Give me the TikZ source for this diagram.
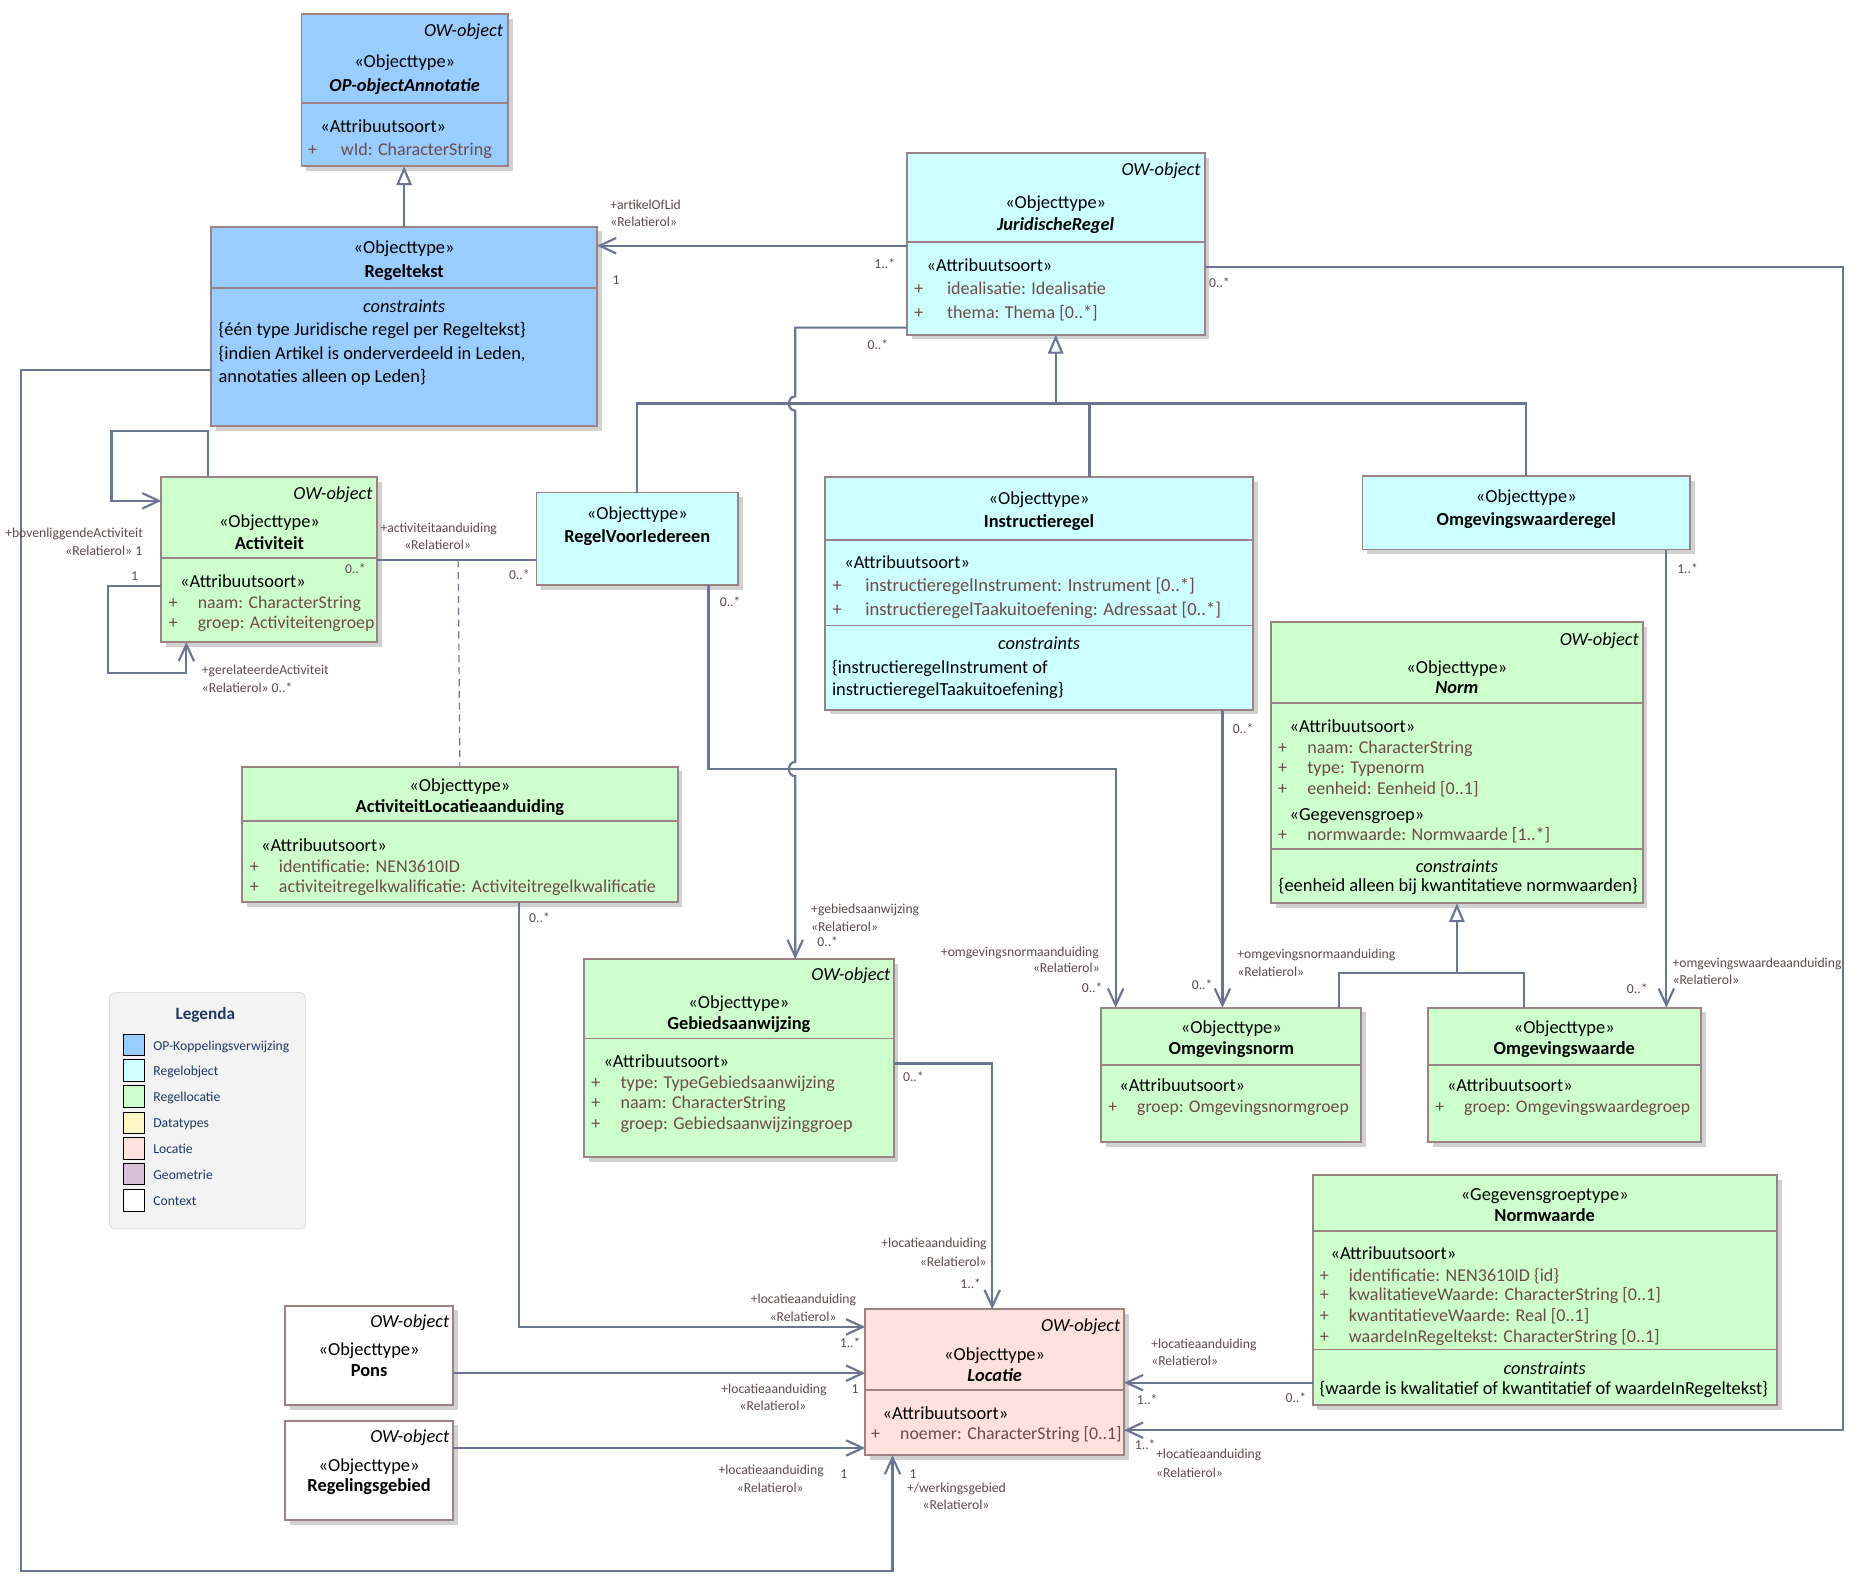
\documentclass[tikz,border=0pt]{standalone}
\usepackage{fontspec}
\setmainfont{Carlito}
\usetikzlibrary{arrows.meta,shadows}

\definecolor{opblauw}{HTML}{99CCFF}
\definecolor{regelobj}{HTML}{CCFFFF}
\definecolor{regelloc}{HTML}{CCFFCC}
\definecolor{datatype}{HTML}{FBF8C6}
\definecolor{locatie}{HTML}{FFE1DE}
\definecolor{geometrie}{HTML}{D8C0D8}
\definecolor{rand}{HTML}{9C8383}
\definecolor{lijn}{HTML}{6B7490}
\definecolor{attrkleur}{HTML}{6E4A48}
\definecolor{rolkleur}{HTML}{5A4B4B}
\definecolor{legtekst}{HTML}{1F3864}
\definecolor{legvlak}{HTML}{F3F3F3}

\newcommand{\attrplus}[1][17pt]{\llap{+\hspace{#1}}}

\begin{document}
\begin{tikzpicture}[x=1pt, y=-1pt,
  klasse/.style={draw=rand, line width=1.6pt, inner sep=0pt, outer sep=0pt, anchor=north west,
    drop shadow={shadow xshift=4pt, shadow yshift=-4pt, fill=black!18, opacity=1}},
  deler/.style={draw=rand, line width=1.6pt},
  tekst/.style={inner sep=0pt, anchor=mid, yshift=-3pt, font=\fontsize{15.5}{18}\selectfont},
  links/.style={tekst, anchor=mid west},
  attr/.style={links, text=attrkleur, font=\fontsize{15.2}{18}\selectfont},
  owtag/.style={inner sep=0pt, anchor=mid east, yshift=-3pt, font=\fontsize{15.5}{18}\selectfont\itshape},
  naam/.style={tekst, font=\fontsize{15.5}{18}\selectfont\bfseries},
  naamabs/.style={tekst, font=\fontsize{15.5}{18}\selectfont\bfseries\itshape},
  cstr/.style={tekst, font=\fontsize{15.5}{18}\selectfont\itshape},
  rol/.style={inner sep=0pt, anchor=mid west, yshift=-1.5pt, text=rolkleur, font=\fontsize{11.5}{13}\selectfont},
  verb/.style={draw=lijn, line width=1.8pt},
  assoc/.style={verb, -{Straight Barb[length=14pt,width=13pt]}},
  gen/.style={verb, -{Triangle[length=16pt,width=13pt,fill=white]}},
  staal/.style={draw=black, line width=0.8pt, minimum size=18, inner sep=0pt},
  legitem/.style={inner sep=0pt, anchor=mid west, yshift=-2pt, text=legtekst, font=\fontsize{11.5}{13}\selectfont}]

  %% ════ klassen ════
  \node[klasse, fill=opblauw, minimum width=174, minimum height=128] (opa) at (254,12) {};
  \node[klasse, fill=opblauw, minimum width=325, minimum height=168] (regt) at (178,191) {};
  \node[klasse, fill=regelobj, minimum width=251, minimum height=153] (jur) at (764,129) {};
  \node[klasse, fill=regelloc, minimum width=182, minimum height=139] (act) at (136,402) {};
  \node[klasse, fill=regelobj, minimum width=170, minimum height=78] (rvi) at (452,415) {};
  \node[klasse, fill=regelobj, minimum width=361, minimum height=196] (instr) at (695,402) {};
  \node[klasse, fill=regelobj, minimum width=276, minimum height=62] (owr) at (1148,401) {};
  \node[klasse, fill=regelloc, minimum width=313, minimum height=237] (norm) at (1071,524) {};
  \node[klasse, fill=regelloc, minimum width=367, minimum height=114] (ala) at (204,646) {};
  \node[klasse, fill=regelloc, minimum width=261, minimum height=167] (gba) at (492,808) {};
  \node[klasse, fill=regelloc, minimum width=219, minimum height=113] (ons) at (928,849) {};
  \node[klasse, fill=regelloc, minimum width=230, minimum height=113] (ows) at (1203,849) {};
  \node[klasse, fill=regelloc, minimum width=391, minimum height=194] (nw) at (1106,990) {};
  \node[klasse, fill=locatie, minimum width=218, minimum height=123] (loc) at (729,1103) {};
  \node[klasse, fill=white, minimum width=142, minimum height=84] (pons) at (240,1100) {};
  \node[klasse, fill=white, minimum width=142, minimum height=84] (rgb) at (240,1197) {};

  %% ════ compartimentlijnen ════
  \draw[deler] (opa.west |- 0,87) -- (opa.east |- 0,87);
  \draw[deler] (regt.west |- 0,243) -- (regt.east |- 0,243);
  \draw[deler] (jur.west |- 0,204) -- (jur.east |- 0,204);
  \draw[deler] (act.west |- 0,470) -- (act.east |- 0,470);
  \draw[deler] (instr.west |- 0,455) -- (instr.east |- 0,455);
  \draw[deler] (instr.west |- 0,527) -- (instr.east |- 0,527);
  \draw[deler] (norm.west |- 0,592) -- (norm.east |- 0,592);
  \draw[deler] (norm.west |- 0,715) -- (norm.east |- 0,715);
  \draw[deler] (ala.west |- 0,692) -- (ala.east |- 0,692);
  \draw[deler] (gba.west |- 0,875) -- (gba.east |- 0,875);
  \draw[deler] (ons.west |- 0,897) -- (ons.east |- 0,897);
  \draw[deler] (ows.west |- 0,897) -- (ows.east |- 0,897);
  \draw[deler] (nw.west |- 0,1037) -- (nw.east |- 0,1037);
  \draw[deler] (nw.west |- 0,1137) -- (nw.east |- 0,1137);
  \draw[deler] (loc.west |- 0,1171) -- (loc.east |- 0,1171);

  %% ════ generalisaties ════
  \coordinate (gen-jur) at (889.5,340);
  \coordinate (gen-norm) at (1227.5,820);
  \draw[gen] (regt.north) -- (regt.north |- opa.south);
  \draw[gen] (gen-jur) -- (jur.south);
  \draw[verb] (rvi.north) |- (gen-jur);
  \draw[verb] (owr.north) |- (gen-jur);
  \draw[verb] (instr.north -| 918,0) -- (918,340);
  \draw[gen] (gen-norm) -- (norm.south);
  \draw[verb] (ons.north -| 1128,0) |- (gen-norm);
  \draw[verb] (ows.north -| 1284,0) |- (gen-norm);

  %% ════ associaties ════
  \draw[assoc] (jur.west |- 0,207) -- (regt.east |- 0,207);
  \draw[assoc] (jur.west |- 0,276) -- (670,276) -- (670,334) .. controls (663,334) and (663,346) .. (670,346)
    -- (670,642) .. controls (663,642) and (663,654) .. (670,654) -- (gba.north -| 670,0);
  \draw[assoc] (rvi.south -| 597,0) |- (940,648) -- (ons.north -| 940,0);
  \draw[assoc] (instr.south -| 1030,0) -- (ons.north -| 1030,0);
  \draw[assoc] (owr.south -| 1404,0) -- (ows.north -| 1404,0);
  \draw[assoc] (jur.east |- 0,225) -| (1553,1205) -- (loc.east |- 0,1205);
  \draw[assoc] (act.north -| 175,0) |- (94,363) |- (act.west |- 0,422);
  \draw[assoc] (act.west |- 0,494) -| (91,567) -| (act.south -| 157,0);
  \draw[verb] (act.east |- 0,472) -- (rvi.west |- 0,472);
  \coordinate (asso-k) at (386,472);
  \draw[verb, line width=1pt, dash pattern=on 6pt off 4pt] (asso-k) -- (ala.north);
  \draw[assoc] (regt.west |- 0,312) -| (18,1324) -| (loc.south -| 752,0);
  \draw[assoc] (ala.south -| 437,0) |- (loc.west |- 0,1118);
  \draw[assoc] (gba.east |- 0,896) -| (loc.north -| 836,0);
  \draw[assoc] (pons.east |- 0,1157) -- (loc.west |- 0,1157);
  \draw[assoc] (rgb.east |- 0,1220) -- (loc.west |- 0,1220);
  \draw[assoc] (nw.west |- 0,1165) -- (loc.east |- 0,1165);

  %% ════ teksten in de klassen ════
  \node[owtag] (opa-ow) at (424,25.6) {OW-object};
  \node[tekst] (opa-st) at (341,51.3) {«Objecttype»};
  \node[naamabs] (opa-nm) at (341,71.8) {OP-objectAnnotatie};
  \node[links] (opa-at) at (269.8,106.2) {«Attribuutsoort»};
  \node[attr] (opa-a1) at (287,125.3) {\attrplus[20pt]wId: CharacterString};

  \node[tekst] (regt-st) at (340.5,208.5) {«Objecttype»};
  \node[naam] (regt-nm) at (340.5,228.4) {Regeltekst};
  \node[cstr] (regt-cs) at (340.5,258) {constraints};
  \node[links] (regt-c1) at (184,277.7) {\{één type Juridische regel per Regeltekst\}};
  \node[links] (regt-c2) at (184,297.6) {\{indien Artikel is onderverdeeld in Leden,};
  \node[links] (regt-c3) at (184,317) {annotaties alleen op Leden\}};

  \node[owtag] (jur-ow) at (1011.7,142.4) {OW-object};
  \node[tekst] (jur-st) at (889.5,170) {«Objecttype»};
  \node[naamabs] (jur-nm) at (889.5,188.5) {JuridischeRegel};
  \node[links] (jur-at) at (780.6,223.6) {«Attribuutsoort»};
  \node[attr] (jur-a1) at (797.8,243) {\attrplus[20pt]idealisatie: Idealisatie};
  \node[attr] (jur-a2) at (797.8,262.6) {\attrplus[20pt]thema: Thema [0..*]};

  \node[owtag] (act-ow) at (314,415.8) {OW-object};
  \node[tekst] (act-st) at (227,439.3) {«Objecttype»};
  \node[naam] (act-nm) at (227,457.3) {Activiteit};
  \node[links] (act-at) at (151.6,489.2) {«Attribuutsoort»};
  \node[attr, font=\fontsize{15}{18}\selectfont] (act-a1) at (166.5,507.2) {\attrplus naam: CharacterString};
  \node[attr, font=\fontsize{15}{18}\selectfont] (act-a2) at (166.5,524) {\attrplus groep: Activiteitengroep};

  \node[tekst] (rvi-st) at (537,432.5) {«Objecttype»};
  \node[naam] (rvi-nm) at (537,452) {RegelVoorIedereen};

  \node[tekst] (instr-st) at (875.5,419.5) {«Objecttype»};
  \node[naam] (instr-nm) at (875.5,439) {Instructieregel};
  \node[links] (instr-at) at (711.2,473.8) {«Attribuutsoort»};
  \node[attr, font=\fontsize{15.6}{18}\selectfont] (instr-a1) at (729,492.7) {\attrplus[20pt]instructieregelInstrument: Instrument [0..*]};
  \node[attr, font=\fontsize{15.6}{18}\selectfont] (instr-a2) at (729,513.3) {\attrplus[20pt]instructieregelTaakuitoefening: Adressaat [0..*]};
  \node[cstr] (instr-cs) at (875.5,542) {constraints};
  \node[links] (instr-c1) at (700.8,561.7) {\{instructieregelInstrument of};
  \node[links] (instr-c2) at (700.8,580.6) {instructieregelTaakuitoefening\}};

  \node[tekst] (owr-st) at (1286,417.8) {«Objecttype»};
  \node[naam] (owr-nm) at (1286,437.7) {Omgevingswaarderegel};

  \node[owtag] (norm-ow) at (1380.9,538.5) {OW-object};
  \node[tekst] (norm-st) at (1227.5,561.7) {«Objecttype»};
  \node[naamabs] (norm-nm) at (1227.5,579.2) {Norm};
  \node[links] (norm-at) at (1086.4,611.7) {«Attribuutsoort»};
  \node[attr] (norm-a1) at (1101.3,629.4) {\attrplus naam: CharacterString};
  \node[attr] (norm-a2) at (1101.3,646.5) {\attrplus type: Typenorm};
  \node[attr] (norm-a3) at (1101.3,663.6) {\attrplus eenheid: Eenheid [0..1]};
  \node[links] (norm-gg) at (1086.4,685.7) {«Gegevensgroep»};
  \node[attr] (norm-a4) at (1101.3,702.5) {\attrplus normwaarde: Normwaarde [1..*]};
  \node[cstr] (norm-cs) at (1227.5,729.5) {constraints};
  \node[links] (norm-c1) at (1077.2,746) {\{eenheid alleen bij kwantitatieve normwaarden\}};

  \node[tekst] (ala-st) at (387.5,661.9) {«Objecttype»};
  \node[naam] (ala-nm) at (387.5,679.3) {ActiviteitLocatieaanduiding};
  \node[links] (ala-at) at (219.8,711.8) {«Attribuutsoort»};
  \node[attr] (ala-a1) at (234.8,729.5) {\attrplus identificatie: NEN3610ID};
  \node[attr] (ala-a2) at (234.8,746.6) {\attrplus activiteitregelkwalificatie: Activiteitregelkwalificatie};

  \node[owtag] (gba-ow) at (750.4,820.6) {OW-object};
  \node[tekst] (gba-st) at (622.5,844.7) {«Objecttype»};
  \node[naam] (gba-nm) at (622.5,862.1) {Gebiedsaanwijzing};
  \node[links] (gba-at) at (508.3,893.8) {«Attribuutsoort»};
  \node[attr] (gba-a1) at (522.7,911.5) {\attrplus type: TypeGebiedsaanwijzing};
  \node[attr] (gba-a2) at (522.7,928.5) {\attrplus naam: CharacterString};
  \node[attr] (gba-a3) at (522.7,945.9) {\attrplus groep: Gebiedsaanwijzinggroep};

  \node[tekst] (ons-st) at (1037.5,865) {«Objecttype»};
  \node[naam] (ons-nm) at (1037.5,883) {Omgevingsnorm};
  \node[links] (ons-at) at (943,914.4) {«Attribuutsoort»};
  \node[attr, font=\fontsize{14.9}{18}\selectfont] (ons-a1) at (958,932) {\attrplus groep: Omgevingsnormgroep};

  \node[tekst] (ows-st) at (1318,865) {«Objecttype»};
  \node[naam] (ows-nm) at (1318,882.7) {Omgevingswaarde};
  \node[links] (ows-at) at (1219,914.4) {«Attribuutsoort»};
  \node[attr, font=\fontsize{14.9}{18}\selectfont] (ows-a1) at (1233.5,932) {\attrplus groep: Omgevingswaardegroep};

  \node[tekst] (nw-st) at (1301.5,1006.4) {«Gegevensgroeptype»};
  \node[naam] (nw-nm) at (1301.5,1024) {Normwaarde};
  \node[links] (nw-at) at (1120.9,1056) {«Attribuutsoort»};
  \node[attr] (nw-a1) at (1136.4,1074) {\attrplus identificatie: NEN3610ID \{id\}};
  \node[attr] (nw-a2) at (1136.4,1090.7) {\attrplus kwalitatieveWaarde: CharacterString [0..1]};
  \node[attr] (nw-a3) at (1136.4,1108.4) {\attrplus kwantitatieveWaarde: Real [0..1]};
  \node[attr] (nw-a4) at (1136.4,1125.4) {\attrplus waardeInRegeltekst: CharacterString [0..1]};
  \node[cstr] (nw-cs) at (1301.5,1152.5) {constraints};
  \node[links] (nw-c1) at (1111.6,1169.2) {\{waarde is kwalitatief of kwantitatief of waardeInRegeltekst\}};

  \node[owtag] (loc-ow) at (944,1116.3) {OW-object};
  \node[tekst] (loc-st) at (838,1140.7) {«Objecttype»};
  \node[naamabs] (loc-nm) at (838,1158.3) {Locatie};
  \node[links] (loc-at) at (743.5,1190.7) {«Attribuutsoort»};
  \node[attr, font=\fontsize{15}{18}\selectfont] (loc-a1) at (758.3,1207.4) {\attrplus noemer: CharacterString [0..1]};

  \node[owtag] (pons-ow) at (378.7,1112.8) {OW-object};
  \node[tekst] (pons-st) at (311,1136.9) {«Objecttype»};
  \node[naam] (pons-nm) at (311,1154.5) {Pons};

  \node[owtag] (rgb-ow) at (378.7,1209.8) {OW-object};
  \node[tekst] (rgb-st) at (311,1234.2) {«Objecttype»};
  \node[naam] (rgb-nm) at (311,1250.9) {Regelingsgebied};

  %% ════ rollen en multipliciteiten ════
  \node[rol] (r-art1) at (514,172.3) {+artikelOfLid};
  \node[rol] (r-art2) at (514,187) {«Relatierol»};
  \node[rol] (m-art1) at (516,235.5) {1};
  \node[rol] (m-art2) at (736.6,222.7) {1..*};
  \node[rol] (m-jloc) at (1018.6,238.7) {0..*};
  \node[rol] (m-jgba) at (730.8,291) {0..*};
  \node[rol] (r-gba1) at (683.3,765.8) {+gebiedsaanwijzing};
  \node[rol] (r-gba2) at (683.3,780.8) {«Relatierol»};
  \node[rol] (m-gba) at (688.5,793.9) {0..*};
  \node[rol] (m-rvi) at (606.3,507.5) {0..*};
  \node[rol, anchor=mid east] (r-onr1) at (926,802) {+omgevingsnormaanduiding};
  \node[rol, anchor=mid east] (r-onr2) at (926.8,815.7) {«Relatierol»};
  \node[rol] (m-onr) at (911.3,832.5) {0..*};
  \node[rol] (m-instr) at (1038.5,614) {0..*};
  \node[rol] (r-oni1) at (1042.4,804) {+omgevingsnormaanduiding};
  \node[rol] (r-oni2) at (1042.4,818.6) {«Relatierol»};
  \node[rol] (m-oni) at (1004,830.2) {0..*};
  \node[rol] (m-owr) at (1413,479) {1..*};
  \node[rol] (r-ows1) at (1409,811.3) {+omgevingswaardeaanduiding};
  \node[rol] (r-ows2) at (1409,825.3) {«Relatierol»};
  \node[rol] (m-ows) at (1370.6,833.1) {0..*};
  \node[rol] (m-act) at (290.5,479.6) {0..*};
  \node[rol, anchor=mid east] (r-bov1) at (120.6,448.6) {+bovenliggendeActiviteit};
  \node[rol, anchor=mid east] (r-bov2) at (120,464) {«Relatierol» 1};
  \node[rol, anchor=mid] (m-bov) at (113.3,485.4) {1};
  \node[rol] (r-ger1) at (169.9,564) {+gerelateerdeActiviteit};
  \node[rol] (r-ger2) at (169.9,579.2) {«Relatierol» 0..*};
  \node[rol] (r-aa1) at (320.4,444.8) {+activiteitaanduiding};
  \node[rol] (r-aa2) at (340.4,458.7) {«Relatierol»};
  \node[rol] (m-aa) at (428.7,484) {0..*};
  \node[rol] (m-ala) at (445.7,773.6) {0..*};
  \node[rol] (m-gbl) at (760.7,907) {0..*};
  \node[rol, anchor=mid east] (r-gbl1) at (831.5,1047.5) {+locatieaanduiding};
  \node[rol, anchor=mid east] (r-gbl2) at (831.5,1062.8) {«Relatierol»};
  \node[rol] (m-gbl2) at (809,1082) {1..*};
  \node[rol, anchor=mid east] (r-all1) at (721.5,1094.3) {+locatieaanduiding};
  \node[rol, anchor=mid east] (r-all2) at (705,1109.3) {«Relatierol»};
  \node[rol] (m-all) at (707.4,1131.3) {1..*};
  \node[rol] (r-pon1) at (607.6,1170) {+locatieaanduiding};
  \node[rol] (r-pon2) at (623,1184.8) {«Relatierol»};
  \node[rol, anchor=mid] (m-pon) at (720.4,1170) {1};
  \node[rol] (r-rgb1) at (605.2,1238.3) {+locatieaanduiding};
  \node[rol] (r-rgb2) at (620.7,1253.3) {«Relatierol»};
  \node[rol, anchor=mid] (m-rgb) at (711,1241.5) {1};
  \node[rol, anchor=mid] (m-wg) at (769.3,1241.5) {1};
  \node[rol] (r-wg1) at (764,1253.3) {+/werkingsgebied};
  \node[rol] (r-wg2) at (777.2,1268) {«Relatierol»};
  \node[rol] (r-nwl1) at (969.8,1131.9) {+locatieaanduiding};
  \node[rol] (r-nwl2) at (969.8,1146.6) {«Relatierol»};
  \node[rol] (m-nwl1) at (957.7,1179.8) {1..*};
  \node[rol] (m-nwl2) at (1083,1178) {0..*};
  \node[rol] (m-jl) at (956,1217) {1..*};
  \node[rol] (r-jl1) at (973.9,1225.3) {+locatieaanduiding};
  \node[rol] (r-jl2) at (973.9,1240.6) {«Relatierol»};

  %% ════ legenda ════
  \node[draw=black!12, fill=legvlak, rounded corners=4pt, line width=0.8pt, anchor=north west,
        minimum width=165, minimum height=199, inner sep=0pt] (leg) at (92,836) {};
  \node[inner sep=0pt, yshift=-1.5pt, text=legtekst, font=\fontsize{14.5}{17}\selectfont\bfseries] (leg-t) at (173,853.5) {Legenda};
  \node[staal, fill=opblauw] (sw1) at (113,880.6) {};
  \node[staal, fill=regelobj] (sw2) at (113,901.9) {};
  \node[staal, fill=regelloc] (sw3) at (113,923.8) {};
  \node[staal, fill=datatype] (sw4) at (113,945.9) {};
  \node[staal, fill=locatie] (sw5) at (113,967.6) {};
  \node[staal, fill=geometrie] (sw6) at (113,989.4) {};
  \node[staal, fill=white] (sw7) at (113,1011.5) {};
  \node[legitem] (lt1) at (129,880.6) {OP-Koppelingsverwijzing};
  \node[legitem] (lt2) at (129,901.9) {Regelobject};
  \node[legitem] (lt3) at (129,923.8) {Regellocatie};
  \node[legitem] (lt4) at (129,945.9) {Datatypes};
  \node[legitem] (lt5) at (129,967.6) {Locatie};
  \node[legitem] (lt6) at (129,989.4) {Geometrie};
  \node[legitem] (lt7) at (129,1011.5) {Context};

  % canvas vastzetten op de verhoudingen van het origineel
  \pgfresetboundingbox
  \path[use as bounding box] (0,0) rectangle (1568,1337);
\end{tikzpicture}
\end{document}
